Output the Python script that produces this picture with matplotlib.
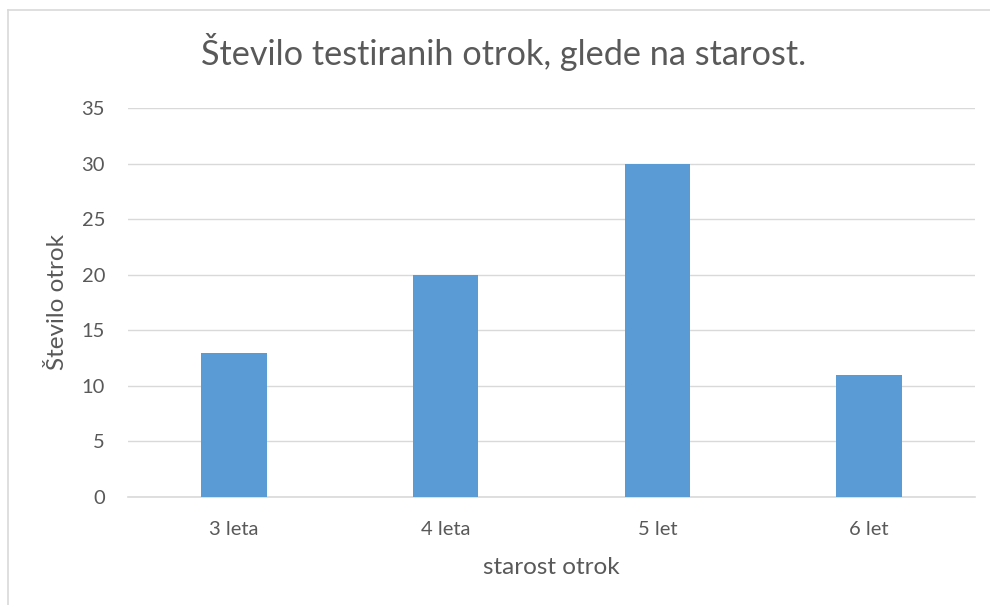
import matplotlib
matplotlib.use("Agg")
import matplotlib.pyplot as plt
from matplotlib.lines import Line2D

categories = ["3 leta", "4 leta", "5 let", "6 let"]
values = [13, 20, 30, 11]
yticks = [0, 5, 10, 15, 20, 25, 30, 35]

plt.rcParams['font.family'] = ['Lato', 'DejaVu Sans']
TXT = "#595959"
GRID = "#D9D9D9"

fig = plt.figure(figsize=(9.9, 6.05), dpi=100)
L, R, B, T = 128, 975, 497, 108
ax = fig.add_axes([L/990, 1-B/605, (R-L)/990, (B-T)/605])

x = range(len(categories))
ax.bar(x, values, width=0.31, color="#5B9BD5", zorder=3)
ax.set_xlim(-0.5, len(categories)-0.5)
ax.set_ylim(0, 35)
ax.set_yticks(yticks)
ax.set_xticks(list(x))
ax.set_xticklabels(categories)
ax.yaxis.grid(True, color=GRID, linewidth=1.0, zorder=0)
ax.set_axisbelow(True)
for s in ["top", "right", "left"]:
    ax.spines[s].set_visible(False)
ax.spines["bottom"].set_color(GRID)
ax.spines["bottom"].set_linewidth(1.2)
ax.tick_params(axis="both", length=0, labelsize=14.5, colors=TXT)
ax.tick_params(axis="y", pad=16.5)
ax.tick_params(axis="x", pad=17)

ax.set_xlabel("starost otrok", fontsize=17.5, color=TXT, va="center")
ax.xaxis.set_label_coords(0.5, (B-568)/(B-T))
ax.set_ylabel("Število otrok", fontsize=17.5, color=TXT, va="center")
ax.yaxis.set_label_coords((57-L)/(R-L), 0.5)
fig.text(504/990, 1-52/605, "Število testiranih otrok, glede na starost.",
         ha="center", va="center", fontsize=24.7, color=TXT)

fig.add_artist(Line2D([7.5/990, 7.5/990], [0, 1-9.5/605], transform=fig.transFigure, color=GRID, linewidth=1.2))
fig.add_artist(Line2D([7.5/990, 1], [1-9.5/605, 1-9.5/605], transform=fig.transFigure, color=GRID, linewidth=1.2))

fig.savefig("out.png", dpi=100, facecolor="white")
